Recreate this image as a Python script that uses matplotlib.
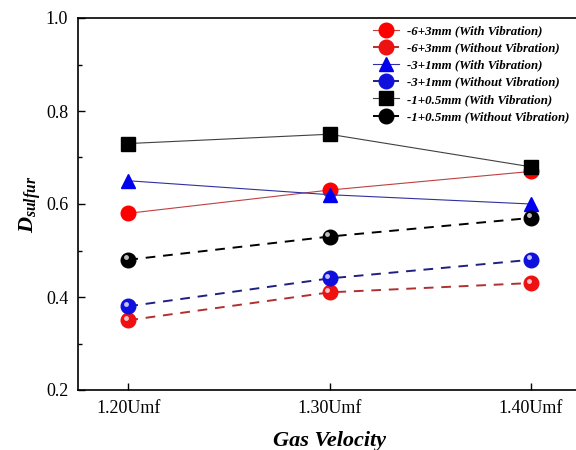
import matplotlib
matplotlib.use("Agg")
import matplotlib.pyplot as plt
import matplotlib.transforms as mtransforms
from matplotlib.ticker import MultipleLocator

plt.rcParams['font.family'] = ['Liberation Serif', 'DejaVu Serif']
plt.rcParams['mathtext.fontset'] = 'custom'
plt.rcParams['mathtext.it'] = 'Liberation Serif:italic:bold'
plt.rcParams['mathtext.rm'] = 'Liberation Serif:bold'

x_vals = [1.20, 1.30, 1.40]
x_labels = ['1.20Umf', '1.30Umf', '1.40Umf']

s63_with = [0.58, 0.63, 0.67]
s63_without = [0.35, 0.41, 0.43]
s31_with = [0.65, 0.62, 0.60]
s31_without = [0.38, 0.44, 0.48]
s105_with = [0.73, 0.75, 0.68]
s105_without = [0.48, 0.53, 0.57]

labels = ['-6+3mm (With Vibration)', '-6+3mm (Without Vibration)',
          '-3+1mm (With Vibration)', '-3+1mm (Without Vibration)',
          '-1+0.5mm (With Vibration)', '-1+0.5mm (Without Vibration)']

fig = plt.figure(figsize=(5.76, 4.5), dpi=100)
ax = fig.add_axes([78/576, 1-390/450, (581-78)/576, (390-18)/450])

def with_line(y, color, marker, lab, lc):
    ax.plot(x_vals, y, color=lc, lw=0.8, ls='-', marker=marker, markersize=10.5,
            markerfacecolor=color, markeredgecolor=color, label=lab, zorder=3)

def sphere_line(y, color, lab, lc):
    ax.plot(x_vals, y, color=lc, lw=1.4, ls=(0, (5, 4)), marker='o', markersize=10.5,
            markerfacecolor=color, markeredgecolor=color, label=lab, zorder=3)
    off = mtransforms.ScaledTranslation(-1.5/72, 1.8/72, fig.dpi_scale_trans)
    ax.plot(x_vals, y, ls='none', marker='o', markersize=3.5,
            markerfacecolor='white', markeredgecolor='none', alpha=0.75,
            transform=ax.transData + off, zorder=4)

with_line(s63_with, '#ff0000', 'o', labels[0], '#c04040')
sphere_line(s63_without, '#ee1111', labels[1], '#b03030')
with_line(s31_with, '#0000ee', '^', labels[2], '#3030a0')
sphere_line(s31_without, '#1010dd', labels[3], '#202080')
with_line(s105_with, '#000000', 's', labels[4], '#404040')
sphere_line(s105_without, '#000000', labels[5], '#000000')

ax.set_xlim(1.175, 1.425)
ax.set_ylim(0.2, 1.0)
ax.set_xticks(x_vals)
ax.set_xticklabels(x_labels)
ax.yaxis.set_major_locator(MultipleLocator(0.2))
ax.yaxis.set_minor_locator(MultipleLocator(0.1))
ax.set_yticks([0.2, 0.4, 0.6, 0.8, 1.0])
ax.set_yticklabels(['0.2', '0.4', '0.6', '0.8', '1.0'])
ax.tick_params(direction='in', labelsize=13, length=5, width=1, pad=7)
ax.tick_params(which='minor', direction='in', length=3, width=1)
for sp in ax.spines.values():
    sp.set_linewidth(1.2)

ax.set_xlabel('Gas Velocity', fontsize=16, fontweight='bold', fontstyle='italic', labelpad=10)
ax.set_ylabel('$D_{sulfur}$', fontsize=16, labelpad=2)

leg = ax.legend(loc='upper left', bbox_to_anchor=(364/576, 1-16/450),
                bbox_transform=fig.transFigure, frameon=False,
                prop={'family': 'Liberation Serif', 'weight': 'bold', 'style': 'italic', 'size': 9.3},
                handlelength=2.0, handletextpad=0.6, labelspacing=0.4, borderpad=0.2)

fig.savefig('out.png', dpi=100)
